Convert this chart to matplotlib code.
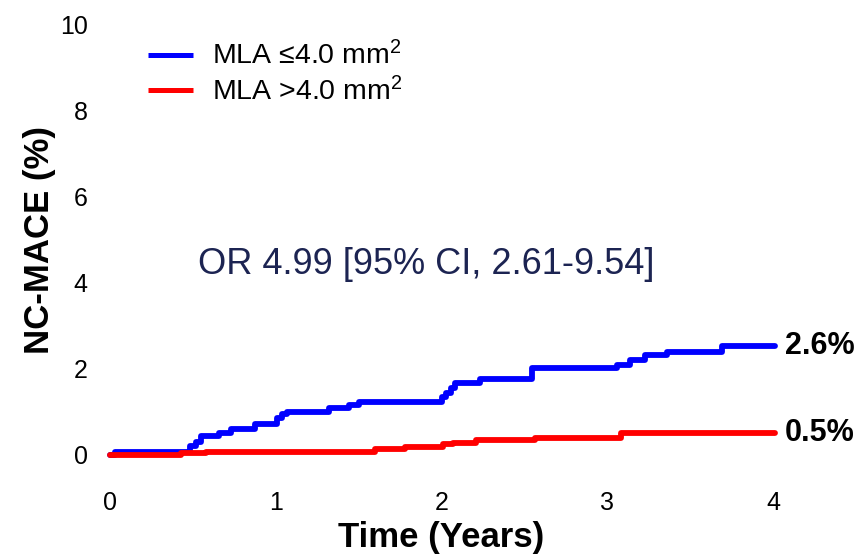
import matplotlib
matplotlib.use("Agg")
import matplotlib.pyplot as plt

plt.rcParams['font.family'] = ['Liberation Sans', 'DejaVu Sans']
plt.rcParams['mathtext.fontset'] = 'custom'
plt.rcParams['mathtext.rm'] = 'Liberation Sans'
plt.rcParams['mathtext.it'] = 'Liberation Sans'
plt.rcParams['mathtext.bf'] = 'Liberation Sans:bold'

# Data
blue_t = [0.0, 0.03, 0.48, 0.52, 0.55, 0.66, 0.73, 0.875, 1.01, 1.04, 1.07, 1.32, 1.44, 1.50,
          2.00, 2.03, 2.06, 2.08, 2.23, 2.545, 3.06, 3.14, 3.23, 3.36, 3.69, 4.01]
blue_v = [0.0, 0.08, 0.20, 0.30, 0.44, 0.52, 0.61, 0.71, 0.85, 0.95, 1.01, 1.09, 1.16, 1.24,
          1.35, 1.45, 1.55, 1.68, 1.76, 2.02, 2.09, 2.20, 2.33, 2.39, 2.53, 2.53]
red_t = [0.0, 0.43, 0.58, 1.60, 1.78, 2.01, 2.07, 2.21, 2.565, 3.08, 4.01]
red_v = [0.0, 0.04, 0.08, 0.14, 0.19, 0.25, 0.29, 0.34, 0.39, 0.52, 0.52]

series_labels = ["MLA \u22644.0 mm$^{\\mathrm{2}}$", "MLA >4.0 mm$^{\\mathrm{2}}$"]
end_labels = ["2.6%", "0.5%"]
x_ticks = [0, 1, 2, 3, 4]
y_ticks = [0, 2, 4, 6, 8, 10]
or_text = "OR 4.99 [95% CI, 2.61-9.54]"

W, H = 860, 560
fig = plt.figure(figsize=(W / 100, H / 100), dpi=100)
ax = fig.add_axes([110 / W, (H - 455) / H, 663 / W, 430 / H])

ax.step(blue_t, blue_v, where='post', color='#0000ff', lw=4.2, solid_capstyle='round',
        clip_on=False, label=series_labels[0])
ax.step(red_t, red_v, where='post', color='#ff0000', lw=4.2, solid_capstyle='round',
        clip_on=False, label=series_labels[1])

ax.set_xlim(0, 4)
ax.set_ylim(0, 10)
ax.set_xticks(x_ticks)
ax.set_yticks(y_ticks)
ax.tick_params(length=0, labelsize=18)
ax.tick_params(axis='x', pad=26)
ax.tick_params(axis='y', pad=16)
for s in ax.spines.values():
    s.set_visible(False)

ax.set_xlabel("Time (Years)", fontsize=25, fontweight='bold', labelpad=4)
ax.set_ylabel("NC-MACE (%)", fontsize=25, fontweight='bold', labelpad=3)

ax.text(blue_t[-1] + 0.06, blue_v[-1], end_labels[0], fontsize=22, fontweight='bold',
        va='center', ha='left', clip_on=False)
ax.text(red_t[-1] + 0.06, red_v[-1], end_labels[1], fontsize=22, fontweight='bold',
        va='center', ha='left', clip_on=False)

fig.text(426 / W, 1 - 265 / H, or_text, fontsize=26, color='#1c2452', ha='center', va='center')

leg = ax.legend(loc='upper left', bbox_to_anchor=(27 / 663, 1 - 5 / 430), frameon=False,
                fontsize=20.5, handlelength=1.55, handletextpad=0.7, labelspacing=0.22,
                borderaxespad=0)
for line in leg.get_lines():
    line.set_linewidth(3.6)
    line.set_solid_capstyle('butt')

fig.savefig("out.png", dpi=100, facecolor='white')
